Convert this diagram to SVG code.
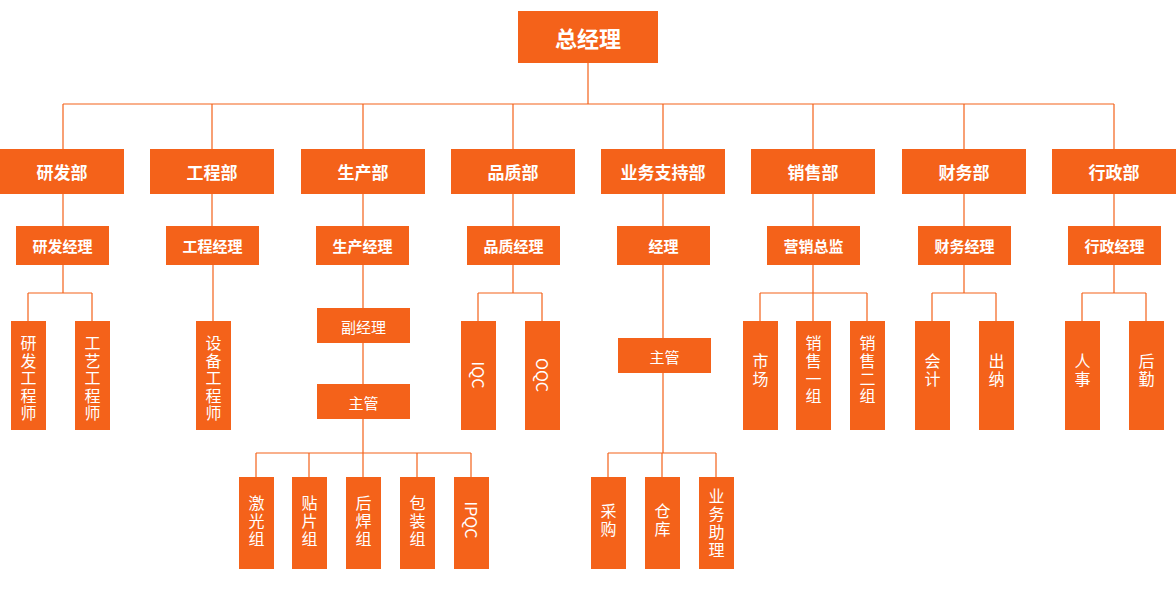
<svg xmlns="http://www.w3.org/2000/svg" width="1176" height="603" viewBox="0 0 1176 603">
<style>
rect{fill:#F4621A}
text{fill:#fff;font-family:"Noto Sans CJK SC","Liberation Sans",sans-serif;text-anchor:middle;dominant-baseline:central}
.t{font-size:22px;font-weight:bold}
.d{font-size:17px;font-weight:bold}
.m{font-size:15px;font-weight:bold}
.l{font-size:16px}
#c path{stroke:#F4621A;stroke-width:1.2;fill:none}
</style>
<g id="c">
<path d="M588 63V104M63 104H1114M63 104V149M212 104V149M363 104V149M513 104V149M663 104V149M813 104V149M964 104V149M1114 104V149"/>
<path d="M63 194V226M212 194V226M363 194V226M513 194V226M663 194V226M813 194V226M964 194V226M1114 194V226"/>
<path d="M63 265V293M28 293H92M28 293V321M92 293V321"/>
<path d="M213 265V321"/>
<path d="M363 265V308M363 343V384M363 419V453M256 453H471M256 453V477M309 453V477M363 453V477M417 453V477M471 453V477"/>
<path d="M513 265V293M478 293H542M478 293V321M542 293V321"/>
<path d="M663 265V338M663 373V453M608 453H716M608 453V477M662 453V477M716 453V477"/>
<path d="M813 265V293M760 293H867M760 293V321M813 293V321M867 293V321"/>
<path d="M964 265V293M932 293H996M932 293V321M996 293V321"/>
<path d="M1114 265V293M1082 293H1146M1082 293V321M1146 293V321"/>
</g>
<g id="n0"><rect x="518" y="11" width="140" height="52"/><text class="t" x="588" y="37">总经理</text></g>
<g id="d1"><rect x="0" y="149" width="124" height="45"/><text class="d" x="62" y="171">研发部</text></g>
<g id="d2"><rect x="150" y="149" width="124" height="45"/><text class="d" x="212" y="171">工程部</text></g>
<g id="d3"><rect x="301" y="149" width="124" height="45"/><text class="d" x="363" y="171">生产部</text></g>
<g id="d4"><rect x="451" y="149" width="124" height="45"/><text class="d" x="513" y="171">品质部</text></g>
<g id="d5"><rect x="601" y="149" width="124" height="45"/><text class="d" x="663" y="171">业务支持部</text></g>
<g id="d6"><rect x="751" y="149" width="124" height="45"/><text class="d" x="813" y="171">销售部</text></g>
<g id="d7"><rect x="902" y="149" width="124" height="45"/><text class="d" x="964" y="171">财务部</text></g>
<g id="d8"><rect x="1052" y="149" width="124" height="45"/><text class="d" x="1114" y="171">行政部</text></g>
<g id="m1"><rect x="16" y="226" width="93" height="39"/><text class="m" x="62.5" y="245">研发经理</text></g>
<g id="m2"><rect x="166" y="226" width="93" height="39"/><text class="m" x="212.5" y="245">工程经理</text></g>
<g id="m3"><rect x="316" y="226" width="93" height="39"/><text class="m" x="362.5" y="245">生产经理</text></g>
<g id="m4"><rect x="467" y="226" width="93" height="39"/><text class="m" x="513.5" y="245">品质经理</text></g>
<g id="m5"><rect x="617" y="226" width="93" height="39"/><text class="m" x="663.5" y="245">经理</text></g>
<g id="m6"><rect x="767" y="226" width="93" height="39"/><text class="m" x="813.5" y="245">营销总监</text></g>
<g id="m7"><rect x="918" y="226" width="93" height="39"/><text class="m" x="964.5" y="245">财务经理</text></g>
<g id="m8"><rect x="1068" y="226" width="93" height="39"/><text class="m" x="1114.5" y="245">行政经理</text></g>
<g id="s1"><rect x="317" y="308" width="93" height="35"/><text class="l" x="363.5" y="326" style="font-size:15px">副经理</text></g>
<g id="s2"><rect x="317" y="384" width="93" height="35"/><text class="l" x="363.5" y="402" style="font-size:15px">主管</text></g>
<g id="s3"><rect x="618" y="338" width="93" height="35"/><text class="l" x="664.5" y="356" style="font-size:15px">主管</text></g>
<g id="l1"><rect x="11" y="321" width="35" height="109"/><text class="l" x="28.5"><tspan x="28.5" y="342">研</tspan><tspan x="28.5" y="359.5">发</tspan><tspan x="28.5" y="377">工</tspan><tspan x="28.5" y="394.5">程</tspan><tspan x="28.5" y="412">师</tspan></text></g>
<g id="l2"><rect x="75" y="321" width="35" height="109"/><text class="l"><tspan x="92.5" y="342">工</tspan><tspan x="92.5" y="359.5">艺</tspan><tspan x="92.5" y="377">工</tspan><tspan x="92.5" y="394.5">程</tspan><tspan x="92.5" y="412">师</tspan></text></g>
<g id="l3"><rect x="196" y="321" width="35" height="109"/><text class="l"><tspan x="213.5" y="342">设</tspan><tspan x="213.5" y="359.5">备</tspan><tspan x="213.5" y="377">工</tspan><tspan x="213.5" y="394.5">程</tspan><tspan x="213.5" y="412">师</tspan></text></g>
<g id="l4"><rect x="461" y="321" width="35" height="109"/><text class="l" transform="translate(478.5 375) rotate(90)">IQC</text></g>
<g id="l5"><rect x="525" y="321" width="35" height="109"/><text class="l" transform="translate(542.5 375) rotate(90)">OQC</text></g>
<g id="l6"><rect x="743" y="321" width="35" height="109"/><text class="l"><tspan x="760.5" y="360">市</tspan><tspan x="760.5" y="378">场</tspan></text></g>
<g id="l7"><rect x="796" y="321" width="35" height="109"/><text class="l"><tspan x="813.5" y="342">销</tspan><tspan x="813.5" y="360">售</tspan><tspan x="813.5" y="378">一</tspan><tspan x="813.5" y="395">组</tspan></text></g>
<g id="l8"><rect x="850" y="321" width="35" height="109"/><text class="l"><tspan x="867.5" y="342">销</tspan><tspan x="867.5" y="360">售</tspan><tspan x="867.5" y="378">二</tspan><tspan x="867.5" y="395">组</tspan></text></g>
<g id="l9"><rect x="915" y="321" width="35" height="109"/><text class="l"><tspan x="932.5" y="360">会</tspan><tspan x="932.5" y="378">计</tspan></text></g>
<g id="l10"><rect x="979" y="321" width="35" height="109"/><text class="l"><tspan x="996.5" y="360">出</tspan><tspan x="996.5" y="378">纳</tspan></text></g>
<g id="l11"><rect x="1065" y="321" width="35" height="109"/><text class="l"><tspan x="1082.5" y="360">人</tspan><tspan x="1082.5" y="378">事</tspan></text></g>
<g id="l12"><rect x="1129" y="321" width="35" height="109"/><text class="l"><tspan x="1146.5" y="360">后</tspan><tspan x="1146.5" y="378">勤</tspan></text></g>
<g id="b1"><rect x="239" y="477" width="35" height="92"/><text class="l"><tspan x="256.5" y="502">激</tspan><tspan x="256.5" y="520">光</tspan><tspan x="256.5" y="538">组</tspan></text></g>
<g id="b2"><rect x="292" y="477" width="35" height="92"/><text class="l"><tspan x="309.5" y="502">贴</tspan><tspan x="309.5" y="520">片</tspan><tspan x="309.5" y="538">组</tspan></text></g>
<g id="b3"><rect x="346" y="477" width="35" height="92"/><text class="l"><tspan x="363.5" y="502">后</tspan><tspan x="363.5" y="520">焊</tspan><tspan x="363.5" y="538">组</tspan></text></g>
<g id="b4"><rect x="400" y="477" width="35" height="92"/><text class="l"><tspan x="417.5" y="502">包</tspan><tspan x="417.5" y="520">装</tspan><tspan x="417.5" y="538">组</tspan></text></g>
<g id="b5"><rect x="454" y="477" width="35" height="92"/><text class="l" transform="translate(471.5 520) rotate(90)">IPQC</text></g>
<g id="b6"><rect x="591" y="477" width="35" height="92"/><text class="l"><tspan x="608.5" y="510">采</tspan><tspan x="608.5" y="528">购</tspan></text></g>
<g id="b7"><rect x="645" y="477" width="35" height="92"/><text class="l"><tspan x="662.5" y="510">仓</tspan><tspan x="662.5" y="528">库</tspan></text></g>
<g id="b8"><rect x="699" y="477" width="35" height="92"/><text class="l"><tspan x="716.5" y="495">业</tspan><tspan x="716.5" y="513">务</tspan><tspan x="716.5" y="531">助</tspan><tspan x="716.5" y="549">理</tspan></text></g>
</svg>
